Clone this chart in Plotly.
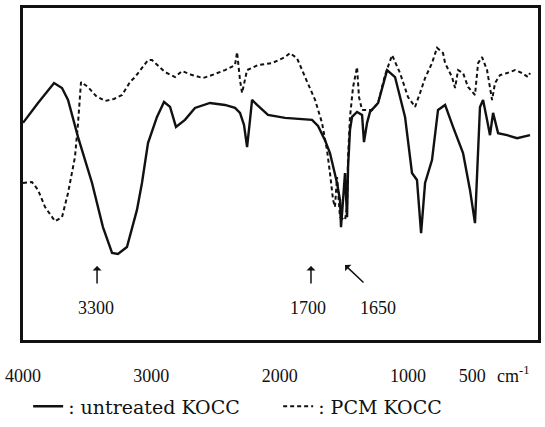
import plotly.graph_objects as go

# Wavenumber (cm-1) and relative transmittance
untreated_wn = [4000, 3883, 3758, 3696, 3649, 3571, 3462, 3377, 3306, 3260, 3190, 3112, 3073, 3026,
                2956, 2901, 2854, 2808, 2738, 2660, 2543, 2426, 2348, 2309, 2278, 2254, 2231, 2215,
                2176, 2091, 1958, 1748, 1701, 1647, 1608, 1584, 1553, 1530, 1522, 1506, 1491, 1475,
                1467, 1452, 1436, 1397, 1358, 1343, 1319, 1296, 1233, 1163, 1101, 1023, 969, 930,
                898, 867, 813, 766, 711, 649, 571, 517, 478, 439, 415, 384, 361, 337, 298, 228, 150, 49]
untreated_t = [65.4, 71.4, 77.4, 75.9, 72.3, 61.1, 47.3, 34.0, 26.2, 25.9, 28.0, 39.2, 47.3, 59.3,
               67.2, 71.7, 70.2, 64.2, 66.3, 69.9, 71.4, 70.8, 69.9, 68.4, 64.8, 58.1, 66.3, 72.3,
               70.8, 67.8, 66.9, 66.3, 64.5, 60.2, 56.3, 52.1, 47.3, 42.2, 34.0, 42.2, 50.3, 37.0,
               52.1, 63.3, 67.2, 68.7, 67.8, 59.6, 65.4, 68.7, 71.4, 81.3, 79.2, 67.2, 50.3, 48.2,
               32.2, 47.3, 54.2, 69.3, 70.8, 64.2, 56.3, 45.2, 35.2, 70.2, 72.3, 66.3, 61.7, 68.4,
               62.3, 61.7, 60.8, 61.7]

pcm_wn = [4000, 3930, 3883, 3829, 3751, 3696, 3649, 3595, 3571, 3548, 3493, 3431, 3361, 3291,
          3228, 3166, 3127, 3026, 2995, 2893, 2815, 2761, 2683, 2597, 2527, 2426, 2348, 2332,
          2309, 2293, 2254, 2169, 2060, 1958, 1919, 1865, 1802, 1724, 1670, 1631, 1608, 1584,
          1569, 1553, 1530, 1491, 1475, 1467, 1452, 1428, 1397, 1382, 1358, 1280, 1233, 1179,
          1124, 1062, 1000, 945, 906, 867, 813, 774, 727, 711, 657, 633, 610, 571, 532, 478,
          454, 423, 384, 361, 345, 322, 283, 228, 166, 111, 65, 49]
pcm_t = [47.3, 47.6, 45.2, 40.1, 35.8, 37.0, 44.3, 55.1, 65.4, 77.7, 76.2, 73.5, 72.0, 72.6,
         73.8, 77.7, 79.2, 84.3, 84.3, 80.7, 79.2, 81.0, 79.8, 78.9, 79.8, 81.3, 82.8, 86.7,
         78.3, 74.4, 81.3, 82.8, 83.4, 85.2, 86.4, 84.9, 79.2, 72.3, 65.4, 57.2, 50.3, 42.2,
         40.1, 49.1, 37.0, 36.1, 40.1, 55.1, 67.2, 76.2, 82.2, 73.2, 69.3, 69.3, 71.4, 79.8,
         85.8, 80.4, 73.2, 70.2, 74.4, 78.9, 83.4, 88.0, 86.4, 83.4, 79.2, 75.9, 81.3, 80.4,
         76.2, 73.8, 83.4, 85.2, 81.3, 75.3, 72.3, 77.4, 79.8, 80.4, 81.3, 80.4, 79.2, 80.4]

tick_vals = [4000, 3000, 2000, 1000, 500]
tick_text = ["4000", "3000", "2000", "1000", "500"]

# Marked bands: (label, arrow head wn, arrow head T, tail dx px, tail dy px, label wn)
marks = [("3300", 3423, 22.3, 0, 19, 3431),
         ("1700", 1756, 22.3, 0, 19, 1779),
         ("1650", 1491, 22.6, 20, 19, 1233)]

serif = "Liberation Serif"
ink = "#111111"

fig = go.Figure()
fig.add_trace(go.Scatter(x=untreated_wn, y=untreated_t, mode="lines", name=": untreated KOCC",
                         line=dict(color=ink, width=2.4)))
fig.add_trace(go.Scatter(x=pcm_wn, y=pcm_t, mode="lines", name=": PCM KOCC",
                         line=dict(color=ink, width=2, dash="4px,3px")))

for label, hx, hy, dx, dy, lx in marks:
    fig.add_annotation(x=hx, y=hy, text="", showarrow=True, ax=dx, ay=dy,
                       arrowhead=1, arrowsize=1, arrowwidth=1.5, arrowcolor=ink)
    fig.add_annotation(x=lx, y=9.6, text=label, showarrow=False,
                       font=dict(family=serif, size=18, color=ink))

fig.add_annotation(xref="paper", yref="paper", x=0.9165, y=-0.103, xanchor="left", yanchor="middle",
                   text="cm<sup>-1</sup>", showarrow=False, font=dict(family=serif, size=18, color=ink))

fig.update_xaxes(range=[4000, -13], tickvals=tick_vals, ticktext=tick_text,
                 showline=True, mirror=True, linewidth=2.5, linecolor=ink,
                 showgrid=False, zeroline=False, ticks="outside", ticklen=18,
                 tickcolor="rgba(0,0,0,0)", tickfont=dict(family=serif, size=18, color=ink))
fig.update_yaxes(range=[0, 100], showticklabels=False, showline=True, mirror=True,
                 linewidth=2.5, linecolor=ink, showgrid=False, zeroline=False, ticks="")

fig.update_layout(
    width=545, height=427,
    margin=dict(l=23, r=7, t=8, b=87, autoexpand=False),
    paper_bgcolor="white", plot_bgcolor="white",
    showlegend=True,
    legend=dict(orientation="h", x=0.01, y=-0.2, xanchor="left", yanchor="middle",
                entrywidth=205, entrywidthmode="pixels",
                font=dict(family="DejaVu Serif", size=19, color=ink),
                bgcolor="rgba(0,0,0,0)"),
)

fig.write_html("out.html")
